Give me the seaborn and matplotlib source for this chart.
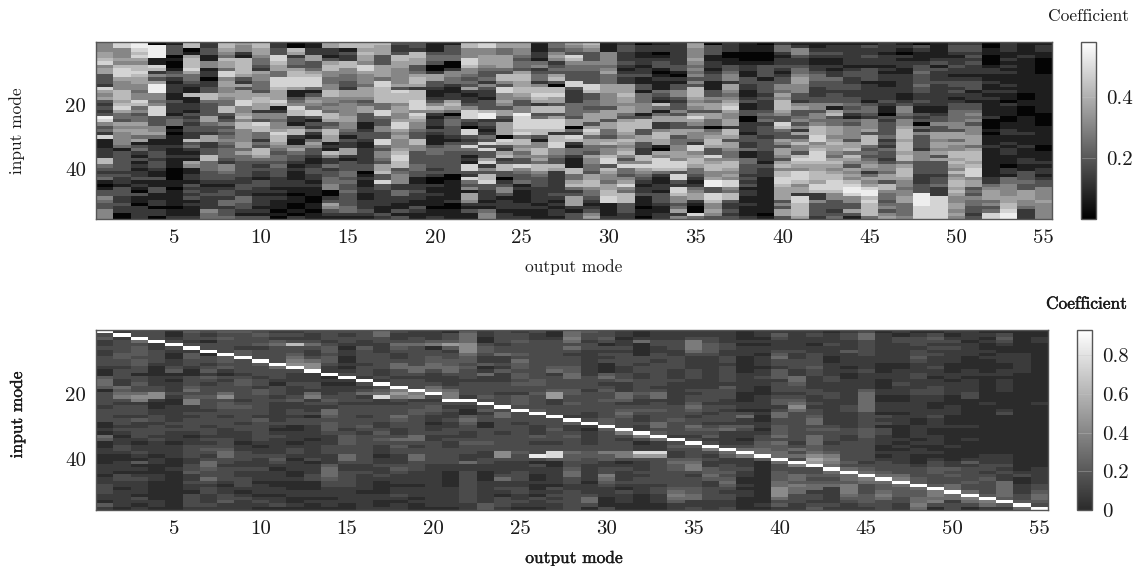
import matplotlib
matplotlib.use("Agg")
import matplotlib.pyplot as plt
import matplotlib.patheffects as pe
import numpy as np
import pandas as pd
import seaborn as sns
from matplotlib.colors import LinearSegmentedColormap

modes = list(range(1, 56))
x_tick_labels = [5, 10, 15, 20, 25, 30, 35, 40, 45, 50, 55]
y_tick_labels = [20, 40]
top_cbar_ticks = [0.2, 0.4]
bottom_cbar_ticks = [0, 0.2, 0.4, 0.6, 0.8]
x_label = "output mode"
y_label = "input mode"
cbar_title = "Coefficient"

# Estimated grey levels, one string per output mode, rows are input modes 1-55.
top_levels = """
55566785663 33286563232 39853428111 22277432341 01335433555
88555657888 65557776786 44365655554 13333332322 13332232200
99878657787 66554558745 34465664613 42131212231 21031102222
09999118725 36999554588 83335564112 23323321131 13311220220
13330100134 21222113222 13440101112 11211100001 10111110112
77016777864 43211711221 32323322734 21216511221 32323121112
22331155122 02233774333 36643326622 33774443332 12232222544
77654766488 56655654477 32353434543 44432554332 12332442334
65521777776 32636668855 67577555566 46443333322 33224433213
77665443265 54443677662 55387744243 77643232213 32212221213
22338876644 88876668712 55455687765 43443433322 21212111010
00762443677 88861134587 72215772115 64332121112 21101100102
11226633467 88841356548 83132521465 33211233221 21110011011
66221367755 44557755454 77634776612 17522423344 55002365321
77132277554 43326654555 56655431322 66213334434 33433334421
77676658865 55466653466 33311233211 22222330121 12211222321
76663336666 48877777448 84335533884 35543667338 33222221132
32237766555 55638777566 55688656555 67887734555 22442211313
33277663346 77627778885 87655433775 53333443311 22322113211
11134430026 63321123575 21221321113 44333323200 21121110112
13334400255 44211226764 03443332134 43333333001 11111200111
77555887554 34362122358 88320883238 43121883284 35166521311
88556665433 42532213337 99232124383 83368253778 33222121455
66446666437 75388556536 63266660873 26723773302 35531222122
66554344367 76677653355 98888784775 64533854334 12111122112
11122145234 42577876277 34888773155 77564775433 32222212111
44356523436 73077866377 36888727788 55433762222 22232121221
65438754433 38832222444 43660428721 44211177446 74236662133
76533354433 33887334434 66636874664 43655443667 75443212356
11155554564 44666555536 66366443674 55788376554 66778811112
23322232123 22666766566 43677765765 67535844356 85477733322
02211221223 11331444555 13777336633 22775865432 12231110110
12201233101 21114321741 46622577661 06588874211 22133321122
22222223310 21335532335 36633663445 56658873883 28875534625
66555654545 35377765653 68653655428 85677644321 24566210084
03331122123 31113354663 66440456776 33856775569 93388755653
22200113345 52665456786 55662776366 54457765658 85477322323
11100012211 33221123113 30022213322 41144333232 31221121112
01100013333 13333232223 43423332333 32221322211 11111111101
24421223212 33554657776 53387433653 66536757788 76666353663
12553223445 66555332563 34535263575 53787658887 56628877776
11232112234 43322233553 55457778856 78887667776 88722533332
12232112122 43332333516 73446665676 65467656778 88755333234
12222221233 22332233434 21435555366 74765365657 89985533631
13223221333 31222221344 32555637774 34345652465 68997877774
22212221212 21122223211 03233334232 43323554663 77544345356
12102122112 22222112355 43556777677 76774677765 54556644445
03211123343 33433223211 32304253333 25553333222 33399998888
11111231322 23222222211 23353366566 56363333233 42228888888
23321223221 23323212334 44455366465 57767657567 76765566565
23323232221 23331221334 54535556664 67776788856 63435443323
00110001221 12112121111 12000101112 11111111122 45666453488
22211212121 11212110211 10011221121 22111022144 55556677899
11112111111 11111001100 01111121112 11122113334 33666554222
12211000001 11111111111 00001111110 01112122123 35555655555
"""

# Hex steps per level, X marks the bright main diagonal.
bottom_levels = """
X3422322333 21145541333 32333311215 41122111222 12233322142
2X233334433 23332254563 23332332321 22332112221 33221222221
33X53444344 33133433576 23332422333 21223214121 23222213212
333X2233332 11122233772 11223323332 32222122111 22111111221
1123X321122 34121222321 12222232322 21222211121 11111111111
43323X24433 21133345346 62232333321 22333322334 22322133332
323133X1332 34243233343 33233332332 32343235543 35323322232
4343333X443 42132333573 44332333222 33345533233 33212233422
43333244X33 33234433332 34333323322 21223332232 23332123222
343342333X4 33323324433 33332433333 32122322232 22122212321
2324533333X 53332133323 22222232123 22222343212 22112212231
2323a334567 X3222322234 22332331122 21233212221 12111221121
32235322357 7X222332562 32231332222 12222231222 33111221211
33323443443 22X12122234 32554344432 22333222455 54332221221
32332122112 123X2122333 23333333234 44333553223 33332222211
33322433332 3332X323523 23332334323 33333333223 22222122222
55332223333 32232X345c2 23333322343 43222122322 32111122112
32235432235 533233X6863 23335433223 53433222343 22212232122
22335333333 5532333X672 33443333335 53233553332 22212221211
22246133445 53222356X32 34432212232 23333333222 22222222221
13348423344 5532223566X 32322322332 32233333221 11112222221
45557775443 4333233332X 32114543322 34333225223 33333333322
22113443224 12522333343 X3423311333 34332233221 11222222244
33332335223 24222333233 3X355333323 33337732222 35223213332
23343334354 43443433244 43X33323333 33334332223 33223322321
32233333333 33334433433 334X3332224 32333d31322 11211213221
11233333333 45233334882 2333X333433 3233cc41122 22213232322
55653532333 44553334433 43332X42234 33335443345 53322333333
43323322222 22233332333 333223X2122 22334433222 22122235531
33431323231 11453234334 3333344X433 33336442233 65432221113
22122323333 22334222554 23454333X63 23336631232 22321322211
11251111332 33223333432 234322322X6 3122c832223 23322211111
22233223323 33333323552 3343335534X 5222c833333 33323322211
22233322333 32223222222 23333433332 X3432245443 33334565422
22366653222 23332223233 45432335432 3X433345663 23334455223
22334443222 22222223333 23323323434 23X63232244 54223333222
22223322332 33333243332 23233324522 223X5422334 34543233223
11121222111 11222222111 22135224322 1235X622232 21121221111
22121221222 12232211122 22121122123 34455X41111 11111111121
24322234533 24442333234 42355334445 354455X5334 44557775342
22222232233 32255433234 57533333333 3235353X633 55465533322
23221223333 43322223322 32334553435 55445798X33 43455233234
12223222112 22233222332 22222223433 323346765X5 43452222232
23322242222 12112222222 23322222332 2333333435X 55466654322
35533333222 23222224555 55533333444 33333332345 X6533344432
12222222221 11221112211 22213231332 22112123334 5X544565333
21332222221 12222322211 22212221111 21212222333 56X54443322
12333233432 22332223322 22222112222 12122111233 344X5445565
13432323222 32212233322 11223222112 22112123344 3334X665631
21232322221 11221222211 12221112111 11211112243 43355X55233
22212222111 12212222331 11111112111 21111124233 334335X6531
12121121211 11211111111 21111111111 11111222332 3433334X652
13432112221 12212222111 11231111111 11111222323 22555554X42
11111112222 22111111111 11111111111 11111111112 311222334X5
11221111111 11111111111 21111111111 11111111122 2223345543X
"""

TOP_VMAX = 0.58
BOT_VMAX = 0.93


def decode_top(ch):
    return 0.01 + int(ch) / 9 * 0.53


def decode_bottom(ch):
    return BOT_VMAX if ch == "X" else max(int(ch, 16) - 1, 0) * 0.07


def to_frame(text, decode):
    cols = [line.replace(" ", "") for line in text.strip().splitlines()]
    matrix = np.array([[decode(ch) for ch in c] for c in cols]).T
    return pd.DataFrame(matrix, index=modes, columns=modes)


top_df = to_frame(top_levels, decode_top)
bottom_df = to_frame(bottom_levels, decode_bottom)

sns.set_theme(style="white")
plt.rcParams["font.family"] = ["cmr10", "DejaVu Serif"]
plt.rcParams["axes.formatter.use_mathtext"] = True
plt.rcParams["axes.unicode_minus"] = False

W, H = 1137, 566
fig = plt.figure(figsize=(W / 100, H / 100), dpi=100, facecolor="white")


def box(x0, y0, x1, y1):
    return [x0 / W, 1 - y1 / H, (x1 - x0) / W, (y1 - y0) / H]


bottom_cmap = LinearSegmentedColormap.from_list("coef", ["#2b2b2b", "#ffffff"])
panels = [
    (top_df, box(96, 42, 1052, 219), box(1081, 42, 1096, 219), "gray", TOP_VMAX,
     top_cbar_ticks, ["0.2", "0.4"], 267, 131, 16, 1129, 0.0),
    (bottom_df, box(96, 330, 1048, 510), box(1077, 330, 1092, 510), bottom_cmap, BOT_VMAX,
     bottom_cbar_ticks, ["0", "0.2", "0.4", "0.6", "0.8"], 558, 415, 304, 1127, 0.35),
]

TICK = "#c8c8c8"
EDGE = "#555555"
for df, ax_box, cb_box, cmap, vmax, cticks, clabels, xl_y, yl_y, title_y, title_x, stroke in panels:
    ax = fig.add_axes(ax_box)
    cax = fig.add_axes(cb_box)
    sns.heatmap(df, ax=ax, cbar_ax=cax, cmap=cmap, vmin=0, vmax=vmax,
                xticklabels=False, yticklabels=False, square=False)
    ax.set_xticks([v - 0.5 for v in x_tick_labels], labels=[str(v) for v in x_tick_labels])
    ax.set_yticks([v - 0.5 for v in y_tick_labels], labels=[str(v) for v in y_tick_labels])
    ax.tick_params(axis="both", which="major", direction="in", length=5.5, width=0.8, color=TICK,
                   top=True, right=True, bottom=True, left=True, labelsize=15, pad=7,
                   labelcolor="#1a1a1a")
    ax.tick_params(axis="y", labelrotation=0)
    ax.set_xlabel("")
    ax.set_ylabel("")
    for s in ax.spines.values():
        s.set_visible(True)
        s.set_color(EDGE)
        s.set_linewidth(1.0)
    cax.set_yticks(cticks, labels=clabels)
    cax.tick_params(axis="y", direction="in", length=0, labelsize=15, pad=7, right=True,
                    labelcolor="#1a1a1a")
    for t in cticks:
        cax.axhline(t, color=TICK, lw=0.4, alpha=0.6)
    cb = ax.collections[0].colorbar
    cb.outline.set_visible(True)
    cb.outline.set_edgecolor(EDGE)
    cb.outline.set_linewidth(1.0)

    effects = [pe.withStroke(linewidth=stroke, foreground="#1a1a1a")] if stroke else None
    fig.text(574 / W, 1 - xl_y / H, x_label, ha="center", va="center",
             fontsize=12.5, color="#1a1a1a", path_effects=effects)
    fig.text(17 / W, 1 - yl_y / H, y_label, rotation=90, ha="center", va="center",
             fontsize=12.5, color="#1a1a1a", path_effects=effects)
    fig.text(title_x / W, 1 - title_y / H, cbar_title, ha="right", va="center",
             fontsize=12.5, color="#1a1a1a", path_effects=effects)

fig.savefig("out.png", dpi=100, facecolor="white")
